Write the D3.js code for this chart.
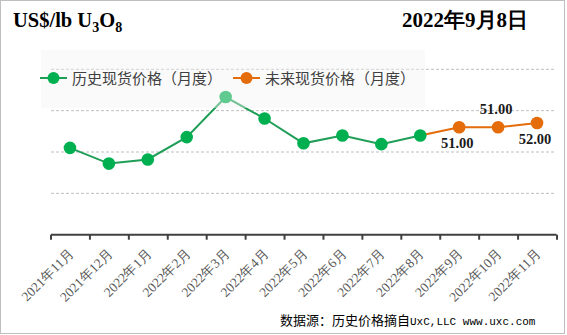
<!DOCTYPE html>
<html>
<head>
<meta charset="utf-8">
<script src="https://cdn.jsdelivr.net/npm/d3@7"></script>
<style>
  body { margin: 0; background: #fff; }
</style>
</head>
<body>
<div id="chart"></div>
<script>
// Datos
const months = ["2021年11月", "2021年12月", "2022年1月", "2022年2月", "2022年3月", "2022年4月",
    "2022年5月", "2022年6月", "2022年7月", "2022年8月", "2022年9月", "2022年10月", "2022年11月"];
const historyMonths = months.slice(0, 10);
const historyPrices = [46.0, 42.2, 43.2, 48.6, 58.3, 53.1, 47.1, 49.0, 46.9, 49.0];
const futureMonths = ["2022年9月", "2022年10月", "2022年11月"];
const futurePrices = [51.0, 51.0, 52.0];
const futureLabels = ["51.00", "51.00", "52.00"];
const labelSide = ["below", "above", "below"];
const yTicks = [25, 35, 45, 55, 65];
const legendNames = ["历史现货价格（月度）", "未来现货价格（月度）"];

const W = 567, H = 335;
const green = "#00b050", greenLine = "#1f9e57", orange = "#e46c0a";

const svg = d3.select("#chart")
    .append("svg")
    .attr("width", W)
    .attr("height", H)
    .style("font-family", "'Liberation Serif', serif");

// Marco exterior
svg.append("rect")
    .attr("x", 0.5).attr("y", 0.5)
    .attr("width", 564).attr("height", 333)
    .attr("fill", "#fff")
    .attr("stroke", "#bfbfbf");

// Escalas
const x = d3.scalePoint()
    .domain(months)
    .range([50.5, 556.5])
    .padding(0.5);
const xEdge = d3.scaleLinear()
    .domain([0, months.length])
    .range([50.5, 556.5]);
const y = d3.scaleLinear()
    .domain([25, 65])
    .range([234.7, 69.3]);

// Lineas de cuadricula
svg.selectAll(".grid")
    .data(yTicks.slice(1))
    .join("line")
    .attr("x1", 51).attr("x2", 556)
    .attr("y1", d => y(d)).attr("y2", d => y(d))
    .attr("stroke", "#bfbfbf")
    .attr("stroke-width", 1)
    .attr("stroke-dasharray", "3,2");

// Eje X
const xAxis = svg.append("g")
    .attr("transform", `translate(0, ${y(25)})`)
    .call(d3.axisBottom(xEdge).tickValues(d3.range(months.length + 1)).tickSize(5).tickFormat(""));
xAxis.select(".domain").attr("stroke", "#404040").attr("stroke-width", 2).attr("d", `M51,0H556.5`);
xAxis.selectAll(".tick line").attr("stroke", "#404040").attr("stroke-width", 2);

svg.selectAll(".xlabel")
    .data(months)
    .join("text")
    .attr("transform", d => `translate(${x(d) + 5}, 254) rotate(-45)`)
    .attr("text-anchor", "end")
    .attr("font-size", 13.5)
    .attr("fill", "#595959")
    .text(d => d);

// Lineas
const line = d3.line()
    .x(d => x(d[0]))
    .y(d => y(d[1]));

const histData = historyMonths.map((m, i) => [m, historyPrices[i]]);
const futData = [histData[histData.length - 1]].concat(futureMonths.map((m, i) => [m, futurePrices[i]]));

svg.append("path")
    .datum(histData)
    .attr("fill", "none")
    .attr("stroke", greenLine)
    .attr("stroke-width", 2)
    .attr("d", line);

svg.append("path")
    .datum(futData)
    .attr("fill", "none")
    .attr("stroke", orange)
    .attr("stroke-width", 2)
    .attr("d", line);

svg.selectAll(".hpt")
    .data(histData)
    .join("circle")
    .attr("cx", d => x(d[0]))
    .attr("cy", d => y(d[1]))
    .attr("r", 6.3)
    .attr("fill", green);

svg.selectAll(".fpt")
    .data(futData.slice(1))
    .join("circle")
    .attr("cx", d => x(d[0]))
    .attr("cy", d => y(d[1]))
    .attr("r", 6.3)
    .attr("fill", orange);

// Etiquetas de datos
svg.selectAll(".dlabel")
    .data(futData.slice(1))
    .join("text")
    .attr("x", (d, i) => x(d[0]) - 2)
    .attr("y", (d, i) => y(d[1]) + (labelSide[i] == "above" ? -13 : 21))
    .attr("text-anchor", "middle")
    .attr("font-size", 14.5)
    .attr("font-weight", "bold")
    .attr("fill", "#1a1a1a")
    .text((d, i) => futureLabels[i]);

// Leyenda (caja semitransparente encima)
svg.append("rect")
    .attr("x", 41).attr("y", 50)
    .attr("width", 384).attr("height", 58)
    .attr("fill", "#f2f2f2")
    .attr("fill-opacity", 0.4);

const legendX = [40, 233];
const legendColors = [green, orange];
legendNames.forEach((name, i) => {
    const g = svg.append("g").attr("transform", `translate(${legendX[i]}, 78)`);
    g.append("line")
        .attr("x1", 0).attr("x2", 27)
        .attr("stroke", i == 0 ? greenLine : orange)
        .attr("stroke-width", 2);
    g.append("circle")
        .attr("cx", 13.5).attr("r", 6)
        .attr("fill", legendColors[i]);
    g.append("text")
        .attr("x", 32).attr("y", 5.5)
        .attr("font-family", "'Noto Sans CJK SC', sans-serif")
        .attr("font-size", 15)
        .attr("fill", "#404040")
        .text(name);
});

// Titulos
const title = svg.append("text")
    .attr("x", 13).attr("y", 27)
    .attr("font-size", 20.5)
    .attr("font-weight", "bold")
    .attr("fill", "#000");
title.append("tspan").text("US$/lb U");
title.append("tspan").attr("font-size", 14).attr("dy", 5).text("3");
title.append("tspan").attr("dy", -5).text("O");
title.append("tspan").attr("font-size", 14).attr("dy", 5).text("8");

svg.append("text")
    .attr("x", 528).attr("y", 27)
    .attr("text-anchor", "end")
    .attr("font-size", 21)
    .attr("font-weight", "bold")
    .attr("fill", "#000")
    .text("2022年9月8日");

// Fuente de datos
const src = svg.append("text")
    .attr("x", 280).attr("y", 325)
    .attr("fill", "#000");
src.append("tspan")
    .attr("font-family", "'Noto Sans CJK SC', sans-serif")
    .attr("font-size", 13)
    .text("数据源：历史价格摘自");
src.append("tspan")
    .attr("font-family", "'Liberation Mono', monospace")
    .attr("font-size", 11)
    .text("UxC,LLC  www.uxc.com");
</script>
</body>
</html>
